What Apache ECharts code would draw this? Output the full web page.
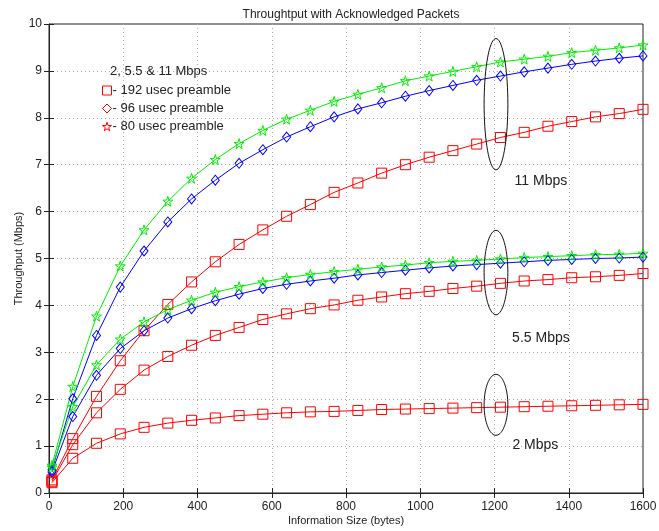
<!DOCTYPE html>
<html>
<head>
<meta charset="utf-8">
<script src="https://cdn.jsdelivr.net/npm/echarts@6/dist/echarts.min.js"></script>
<style>
  html, body { margin: 0; padding: 0; background: #fff; }
  #chart { width: 659px; height: 531px; }
</style>
</head>
<body>
<div id="chart"></div>
<script>
// information size (bytes)
const sizes = [8, 64, 128, 192, 256, 320, 384, 448, 512, 576, 640, 704, 768, 832, 896, 960, 1024, 1088, 1152, 1216, 1280, 1344, 1408, 1472, 1536, 1600];

// 11 Mbps
const long11 = [0.28, 1.16, 2.06, 2.82, 3.46, 4.02, 4.50, 4.93, 5.30, 5.61, 5.90, 6.15, 6.41, 6.61, 6.82, 7.00, 7.16, 7.30, 7.44, 7.58, 7.69, 7.82, 7.92, 8.02, 8.09, 8.18];
const short11 = [0.49, 2.01, 3.36, 4.39, 5.16, 5.78, 6.27, 6.67, 7.03, 7.32, 7.59, 7.81, 8.02, 8.19, 8.32, 8.46, 8.58, 8.69, 8.80, 8.89, 8.98, 9.06, 9.14, 9.21, 9.27, 9.32];
const short11b = [0.59, 2.27, 3.77, 4.84, 5.61, 6.22, 6.71, 7.11, 7.45, 7.73, 7.97, 8.16, 8.35, 8.50, 8.64, 8.79, 8.89, 8.99, 9.09, 9.19, 9.25, 9.31, 9.39, 9.44, 9.49, 9.55];
// 5.5 Mbps
const long55 = [0.25, 1.03, 1.71, 2.21, 2.62, 2.91, 3.15, 3.36, 3.53, 3.70, 3.82, 3.93, 4.01, 4.11, 4.18, 4.25, 4.30, 4.36, 4.41, 4.47, 4.52, 4.55, 4.59, 4.61, 4.64, 4.68];
const short55 = [0.45, 1.63, 2.51, 3.08, 3.46, 3.73, 3.93, 4.10, 4.24, 4.36, 4.45, 4.52, 4.58, 4.65, 4.70, 4.75, 4.80, 4.84, 4.87, 4.90, 4.93, 4.96, 4.98, 5.00, 5.01, 5.03];
const short55b = [0.55, 1.84, 2.73, 3.28, 3.65, 3.91, 4.11, 4.28, 4.40, 4.50, 4.59, 4.66, 4.72, 4.77, 4.82, 4.86, 4.91, 4.94, 4.96, 4.99, 5.02, 5.04, 5.06, 5.08, 5.09, 5.11];
// 2 Mbps
const long2 = [0.22, 0.74, 1.06, 1.26, 1.40, 1.49, 1.55, 1.60, 1.65, 1.68, 1.71, 1.73, 1.74, 1.76, 1.78, 1.79, 1.80, 1.81, 1.82, 1.83, 1.84, 1.85, 1.86, 1.87, 1.88, 1.89];

const preambles = ['- 192 usec preamble', '- 96 usec preamble', '- 80 usec preamble'];
const rateLabels = ['11 Mbps', '5.5 Mbps', '2 Mbps'];

const STAR = 'path://M50,0 L61,35 L98,35 L68,57 L79,91 L50,70 L21,91 L32,57 L2,35 L39,35 Z';
const font = 'Liberation Sans, Arial, sans-serif';

function mkSeries(name, values, color, symbol, size) {
  return {
    name: name,
    type: 'line',
    data: sizes.map((s, i) => [s, values[i]]),
    symbol: symbol,
    symbolSize: size,
    lineStyle: { color: color, width: 1 },
    itemStyle: { color: 'rgba(0,0,0,0)', borderColor: color, borderWidth: 1 },
    emphasis: { disabled: true },
    z: 3
  };
}

// ellipse marks at ~1200 bytes, with rate labels
const ellipses = [
  { x: 1204, y: 8.29, rx: 32, ry: 1.40, label: rateLabels[0], lx: 1325, ly: 6.65 },
  { x: 1204, y: 4.70, rx: 32, ry: 0.90, label: rateLabels[1], lx: 1325, ly: 3.30 },
  { x: 1204, y: 1.88, rx: 32, ry: 0.65, label: rateLabels[2], lx: 1310, ly: 1.02 }
];

const chart = echarts.init(document.getElementById('chart'));

const splitStyle = { lineStyle: { color: '#aaa', type: [1, 3] }, showMinLine: false, showMaxLine: false };

chart.setOption({
  animation: false,
  backgroundColor: '#fff',
  title: [{
    text: 'Throughtput with Acknowledged Packets',
    left: 346, top: 4, textAlign: 'center',
    textStyle: { fontSize: 12, fontWeight: 'normal', color: '#222', fontFamily: font }
  }, {
    text: '2, 5.5 & 11 Mbps',
    left: 105, top: 60,
    textStyle: { fontSize: 13, fontWeight: 'normal', color: '#222', fontFamily: font }
  }],
  legend: {
    orient: 'vertical',
    left: 97, top: 79,
    itemWidth: 9, itemHeight: 9, itemGap: 5,
    selectedMode: false,
    textStyle: { fontSize: 13, lineHeight: 13, color: '#222', fontFamily: font, padding: [0, 0, 0, -4] },
    data: [
      { name: preambles[0], icon: 'rect', itemStyle: { color: 'rgba(0,0,0,0)', borderColor: '#f00', borderWidth: 1 } },
      { name: preambles[1], icon: 'diamond', itemStyle: { color: 'rgba(0,0,0,0)', borderColor: '#f00', borderWidth: 1 } },
      { name: preambles[2], icon: STAR, itemStyle: { color: 'rgba(0,0,0,0)', borderColor: '#f00', borderWidth: 1 } }
    ]
  },
  grid: {
    left: 49, right: 16, top: 24, bottom: 38,
    outerBoundsMode: 'none', containLabel: false,
    show: true, borderColor: '#222', borderWidth: 1
  },
  xAxis: [{
    type: 'value', min: 0, max: 1600, interval: 200,
    name: 'Information Size (bytes)', nameLocation: 'middle', nameGap: 22, nameMoveOverlap: false,
    nameTextStyle: { fontSize: 11, color: '#222', fontFamily: font },
    axisLine: { lineStyle: { color: '#222' } },
    axisTick: { inside: true, length: 5, lineStyle: { color: '#222' } },
    axisLabel: { fontSize: 12, color: '#222', fontFamily: font, margin: 8, formatter: v => String(v) },
    splitLine: splitStyle
  }, {
    type: 'value', min: 0, max: 1600, interval: 200, position: 'top',
    axisLine: { show: false },
    axisTick: { inside: true, length: 5, lineStyle: { color: '#222' } },
    axisLabel: { show: false }, splitLine: { show: false }
  }],
  yAxis: [{
    type: 'value', min: 0, max: 10, interval: 1,
    name: 'Throughput (Mbps)', nameLocation: 'middle', nameGap: 25, nameMoveOverlap: false,
    nameTextStyle: { fontSize: 11, color: '#222', fontFamily: font },
    axisLine: { lineStyle: { color: '#222' } },
    axisTick: { inside: true, length: 5, lineStyle: { color: '#222' } },
    axisLabel: { fontSize: 12, color: '#222', fontFamily: font, margin: 7 },
    splitLine: splitStyle
  }, {
    type: 'value', min: 0, max: 10, interval: 1, position: 'right',
    axisLine: { show: false },
    axisTick: { inside: true, length: 5, lineStyle: { color: '#222' } },
    axisLabel: { show: false }, splitLine: { show: false }
  }],
  series: [
    mkSeries(preambles[0], long11, '#ff0000', 'rect', 10),
    mkSeries(preambles[1], short11, '#0000ff', 'diamond', [8, 10]),
    mkSeries(preambles[2], short11b, '#00f000', STAR, 10),
    mkSeries(preambles[0], long55, '#ff0000', 'rect', 10),
    mkSeries(preambles[1], short55, '#0000ff', 'diamond', [8, 10]),
    mkSeries(preambles[2], short55b, '#00f000', STAR, 10),
    mkSeries(preambles[0], long2, '#ff0000', 'rect', 10),
    {
      type: 'custom',
      silent: true,
      z: 5,
      data: ellipses.map(e => [e.x, e.y, e.rx, e.ry, e.lx, e.ly]),
      renderItem(params, api) {
        const c = api.coord([api.value(0), api.value(1)]);
        const sz = api.size([api.value(2), api.value(3)]);
        const pts = [];
        for (let k = 0; k <= 72; k++) {
          const a = k / 72 * Math.PI * 2;
          pts.push([c[0] + sz[0] * Math.cos(a), c[1] + sz[1] * Math.sin(a)]);
        }
        const lp = api.coord([api.value(4), api.value(5)]);
        return {
          type: 'group',
          children: [{
            type: 'polyline',
            shape: { points: pts },
            style: { stroke: '#111', lineWidth: 1, fill: null }
          }, {
            type: 'text',
            x: lp[0], y: lp[1],
            style: {
              text: ellipses[params.dataIndex].label,
              fontSize: 14, fontFamily: font, fill: '#222',
              align: 'center', verticalAlign: 'middle'
            }
          }]
        };
      }
    }
  ]
});
</script>
</body>
</html>
